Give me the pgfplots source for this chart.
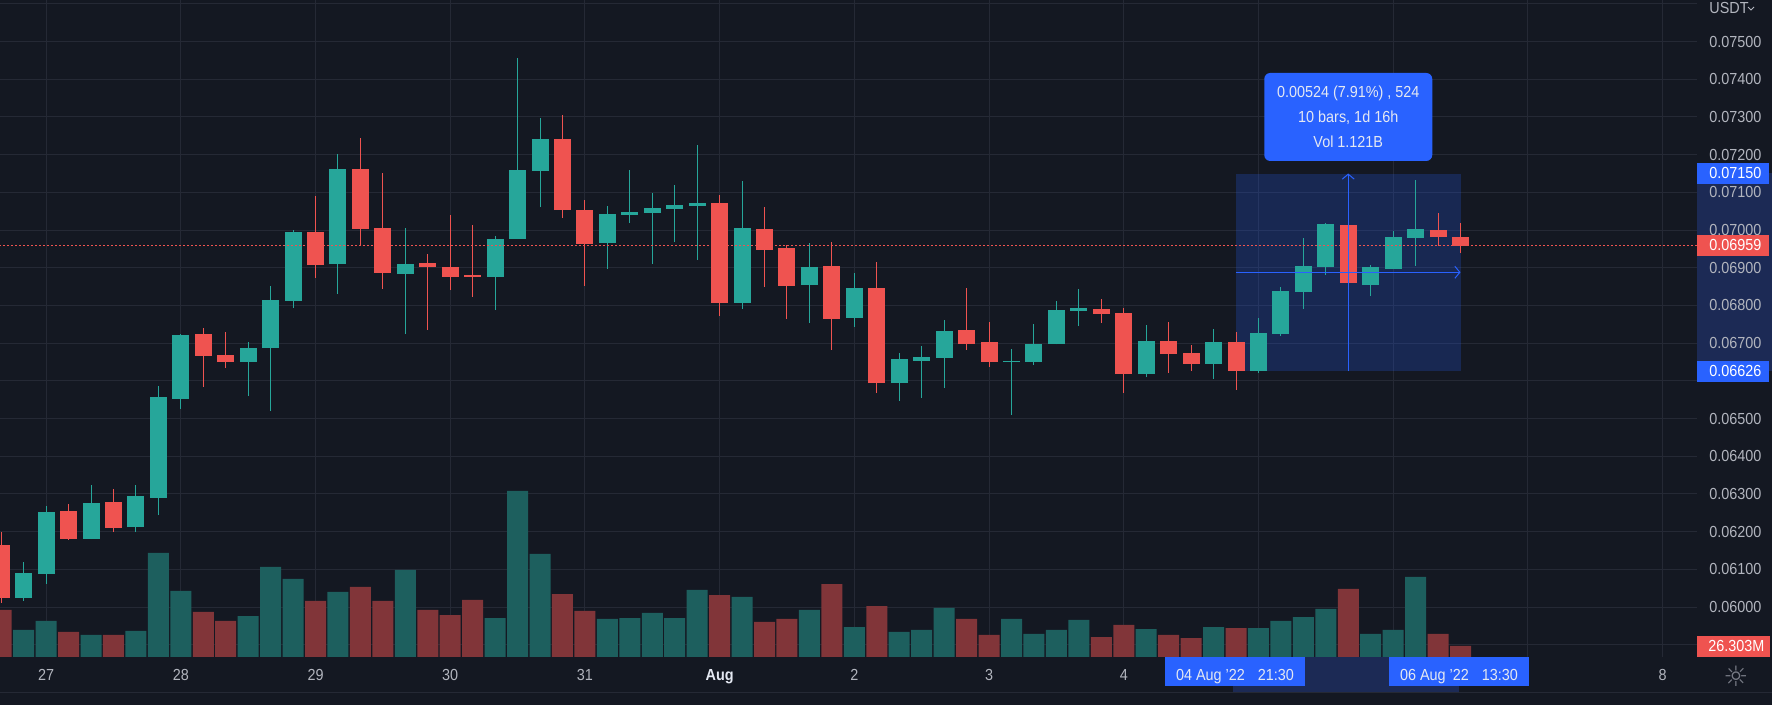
\documentclass[border=0pt]{standalone}
\usepackage{fontspec}
\setmainfont{Liberation Sans}
\newfontfamily\tvfam[FakeStretch=0.9]{Liberation Sans}
\newfontfamily\djv{DejaVu Sans}
\usepackage{pgfplots}
\pgfplotsset{compat=1.18}
\usepackage{pgfplotstable}
\usetikzlibrary{arrows.meta}
\newcommand\tvf{\tvfam\fontsize{8}{9.6}\selectfont}

\definecolor{bg}{RGB}{20,24,34}
\definecolor{gridc}{RGB}{37,41,53}
\definecolor{up}{HTML}{26A69A}
\definecolor{down}{HTML}{EF5350}
\definecolor{vup}{RGB}{29,95,94}
\definecolor{vdown}{RGB}{129,53,57}
\definecolor{tvblue}{HTML}{2962FF}
\definecolor{axtext}{HTML}{B2B5BE}
\definecolor{rangebg}{RGB}{28,42,85}
\definecolor{tiptext}{RGB}{228,232,242}
\definecolor{gear}{HTML}{787B86}

\pgfplotstableread{
k o h l c v
-1 0.06025 0.06120 0.06017 0.06090 64.6
0 0.06088 0.06268 0.06062 0.06252 86.1
2 0.06181 0.06324 0.06180 0.06276 52.6
4 0.06212 0.06324 0.06199 0.06295 62.2
5 0.06290 0.06587 0.06244 0.06557 248.7
6 0.06552 0.06724 0.06526 0.06722 157.8
9 0.06650 0.06703 0.06560 0.06687 98.0
10 0.06687 0.06852 0.06520 0.06815 215.2
11 0.06813 0.07000 0.06794 0.06995 186.5
13 0.06910 0.07202 0.06831 0.07162 155.4
16 0.06884 0.07006 0.06724 0.06910 208.0
20 0.06876 0.06984 0.06788 0.06976 93.2
21 0.06976 0.07457 0.06976 0.07159 396.9
22 0.07157 0.07297 0.07061 0.07242 246.3
25 0.06966 0.07064 0.06897 0.07043 90.9
26 0.07040 0.07159 0.07019 0.07048 93.2
27 0.07045 0.07098 0.06910 0.07059 105.2
28 0.07056 0.07120 0.06968 0.07067 93.2
29 0.07064 0.07226 0.06921 0.07072 160.2
31 0.06807 0.07130 0.06791 0.07006 143.5
34 0.06854 0.06966 0.06754 0.06902 112.4
36 0.06767 0.06886 0.06743 0.06846 71.7
38 0.06594 0.06674 0.06547 0.06658 59.8
39 0.06653 0.06693 0.06555 0.06663 64.6
40 0.06661 0.06762 0.06581 0.06732 117.2
43 0.06651 0.06685 0.06510 0.06653 90.9
44 0.06651 0.06751 0.06643 0.06698 55.0
45 0.06698 0.06812 0.06697 0.06788 64.6
46 0.06786 0.06844 0.06746 0.06793 88.5
49 0.06618 0.06748 0.06610 0.06706 66.9
52 0.06645 0.06738 0.06605 0.06703 71.7
54 0.06626 0.06767 0.06621 0.06727 69.3
55 0.06724 0.06849 0.06719 0.06839 86.1
56 0.06836 0.06979 0.06791 0.06905 95.6
57 0.06902 0.07019 0.06881 0.07016 114.8
59 0.06854 0.06907 0.06825 0.06902 55.0
60 0.06897 0.06998 0.06897 0.06982 64.6
61 0.06979 0.07133 0.06905 0.07003 191.3
}\upbars

\pgfplotstableread{
k o h l c v
-2 0.06165 0.06199 0.06012 0.06025 112.4
1 0.06255 0.06274 0.06179 0.06181 59.8
3 0.06279 0.06313 0.06199 0.06210 52.6
7 0.06724 0.06740 0.06584 0.06666 107.6
8 0.06669 0.06730 0.06634 0.06650 86.1
12 0.06995 0.07091 0.06873 0.06907 133.9
14 0.07162 0.07244 0.06960 0.07003 167.4
15 0.07006 0.07152 0.06844 0.06886 133.9
17 0.06913 0.06937 0.06735 0.06902 112.4
18 0.06902 0.07040 0.06841 0.06876 100.4
19 0.06881 0.07014 0.06823 0.06876 136.3
23 0.07242 0.07305 0.07032 0.07053 150.6
24 0.07053 0.07080 0.06852 0.06963 110.0
30 0.07072 0.07093 0.06772 0.06807 148.2
32 0.07003 0.07061 0.06849 0.06947 83.7
33 0.06953 0.06960 0.06764 0.06852 90.9
35 0.06905 0.06968 0.06682 0.06764 174.5
37 0.06846 0.06915 0.06568 0.06594 121.9
41 0.06735 0.06846 0.06682 0.06698 90.9
42 0.06703 0.06756 0.06638 0.06651 52.6
47 0.06791 0.06817 0.06754 0.06778 47.8
48 0.06780 0.06793 0.06568 0.06618 76.5
50 0.06706 0.06756 0.06621 0.06671 52.6
51 0.06674 0.06695 0.06626 0.06645 45.4
53 0.06703 0.06730 0.06576 0.06626 69.3
58 0.07014 0.07014 0.06860 0.06860 162.6
62 0.07000 0.07045 0.06958 0.06982 55.0
63 0.06982 0.07020 0.06940 0.06959 26.3
}\downbars

\pgfplotsset{
  tvbase/.style={at={(0pt,24pt)}, anchor=south west, width=848.5pt, height=328.5pt,
    scale only axis, xmin=-2.0535, xmax=73.534},
  tvprice/.style={tvbase, ymin=0.058676, ymax=0.076103, scaled y ticks=false},
  candle/.style 2 args={draw=none, mark=none, forget plot, error bars/.cd, y dir=plus, y explicit,
    error mark=none, error bar style={draw=#1, line cap=butt, line width=#2}},
}

\begin{document}
\begin{tikzpicture}
\path[use as bounding box] (0,0) rectangle (886pt,352.5pt);
\fill[bg] (0,0) rectangle (886pt,352.5pt);

\begin{scope}[x=0.5pt, y=-0.5pt, shift={(0pt,352.5pt)}]
\fill[rangebg] (1697,173.25) rectangle (1772,370.8);
\fill[rangebg] (1233,657) rectangle (1459,692);
\draw[gridc, line width=0.5pt] (0,692.5) -- (1772,692.5);
\end{scope}

% axis 1: grid and tick labels
\begin{axis}[tvprice,
  axis line style={draw=none}, tick style={draw=none}, major tick length=0pt,
  grid=major, grid style={draw=gridc, line width=0.5pt},
  xtick={0,6,12,18,24,30,36,42,48,54,60,66,72},
  xticklabels={27,28,29,30,31,{\color{tiptext}\bfseries Aug},2,3,4,{},{},{},8},
  ytick={0.059,0.060,0.061,0.062,0.063,0.064,0.065,0.066,0.067,0.068,0.069,0.070,0.071,0.072,0.073,0.074,0.075,0.076},
  yticklabels={{},0.06000,0.06100,0.06200,0.06300,0.06400,0.06500,{},0.06700,0.06800,0.06900,0.07000,0.07100,0.07200,0.07300,0.07400,0.07500,{}},
  yticklabel pos=right,
  x tick label style={font=\tvf, text=axtext, anchor=base, inner sep=0pt, yshift=-11.85pt},
  y tick label style={font=\tvf, text=axtext, anchor=west, inner sep=0pt, xshift=6pt},
]
\addplot[draw=none, mark=none] coordinates {(0,0.06)};
\end{axis}

% axis 2: volume
\begin{axis}[tvbase, ymin=0, ymax=1570.9, hide axis]
\addplot[ybar, bar width=10.5pt, bar shift=0pt, fill=vup, draw=none] table[x=k,y=v]{\upbars};
\addplot[ybar, bar width=10.5pt, bar shift=0pt, fill=vdown, draw=none] table[x=k,y=v]{\downbars};
\end{axis}

% axis 3: candles and measure
\begin{axis}[tvprice, hide axis]
\fill[tvblue, fill opacity=0.22] (axis cs:53,0.06626) rectangle (axis cs:63,0.0715);
\addplot[candle={up}{0.5pt}]
  table[x=k, y=l, y error expr=\thisrow{h}-\thisrow{l}]{\upbars};
\addplot[candle={down}{0.5pt}]
  table[x=k, y=l, y error expr=\thisrow{h}-\thisrow{l}]{\downbars};
\addplot[candle={up}{8.5pt}]
  table[x=k, y=o, y error expr={max(\thisrow{c}-\thisrow{o},0.00003)}]{\upbars};
\addplot[candle={down}{8.5pt}]
  table[x=k, y=c, y error expr={max(\thisrow{o}-\thisrow{c},0.00003)}]{\downbars};
\addplot[down, line width=0.5pt, dash pattern=on 1pt off 1pt] coordinates {(-3,0.06959) (75,0.06959)};
\draw[tvblue, line width=0.5pt, -{Straight Barb[length=2.5pt, width=6pt]}] (axis cs:58,0.06626) -- (axis cs:58,0.0715);
\draw[tvblue, line width=0.5pt, -{Straight Barb[length=2.5pt, width=6pt]}] (axis cs:53,0.06888) -- (axis cs:63,0.06888);
\node[fill=tvblue, rounded corners=3pt, minimum width=84pt, minimum height=44pt, inner sep=0pt,
  text=tiptext, font={\tvfam\fontsize{8}{12.5}\selectfont}, align=center] at (axis cs:58,0.073)
  {0.00524 (7.91\%) , 524\\10 bars, 1d 16h\\Vol 1.121B};
\end{axis}

\begin{scope}[x=0.5pt, y=-0.5pt, shift={(0pt,352.5pt)}]
\tikzset{plab/.style={anchor=west, inner sep=0pt, text=white, font=\tvf}}
\fill[tvblue] (1697,163.3) rectangle (1769,183.7);
\node[plab] at (1709,173.5) {0.07150};
\fill[down] (1697,235) rectangle (1769,256);
\node[plab] at (1709,245.5) {0.06959};
\fill[tvblue] (1697,361) rectangle (1769,381.7);
\node[plab] at (1709,371.3) {0.06626};
\fill[down] (1697,636) rectangle (1770,656.7);
\node[plab] at (1708,646.3) {26.303M};
\fill[tvblue] (1165,657) rectangle (1305,686.3);
\node[anchor=base, inner sep=0pt, text=tiptext, font=\tvf] at (1235,680.7) {04 Aug ’22\hspace{6.5pt}21:30};
\fill[tvblue] (1389,657) rectangle (1528.5,686.3);
\node[anchor=base, inner sep=0pt, text=tiptext, font=\tvf] at (1459,680.7) {06 Aug ’22\hspace{6.5pt}13:30};
\node[anchor=west, inner sep=0pt, text=axtext, font=\tvf] at (1709,8.5) {USDT};
\draw[axtext, line width=0.5pt] (1748,7) -- (1751,10) -- (1754,7);
\node[inner sep=0pt, text=gear, font=\djv\fontsize{14}{14}\selectfont] at (1736,676) {☼};
\end{scope}
\end{tikzpicture}
\end{document}
